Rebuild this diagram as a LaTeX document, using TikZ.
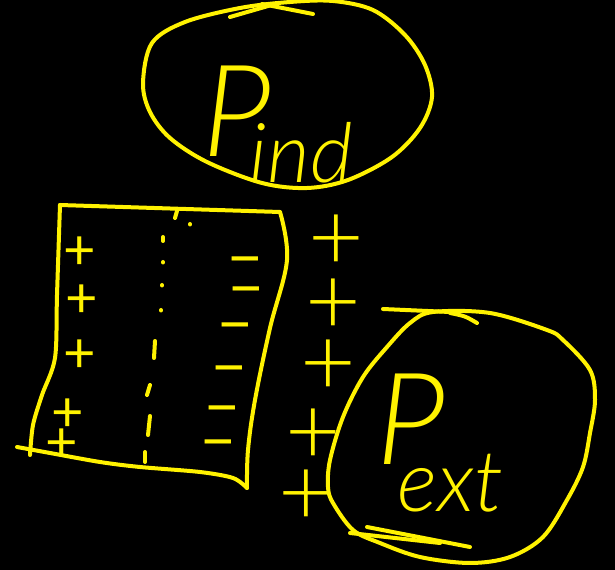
\documentclass[tikz,border=0pt]{standalone}
\usepackage{fontspec}
\newfontfamily\hand{Lato}[UprightFont=* Light, ItalicFont=* Light Italic]
\newfontfamily\handsign{Lato}
\begin{document}
\begin{tikzpicture}[x=0.75pt,y=-0.75pt,
  ink/.style={draw=yellow, line width=3pt, line cap=round, line join=round},
  txt/.style={text=yellow, inner sep=0pt},
  label/.style={txt, anchor=base west, font=\hand\itshape\fontsize{96}{96}\selectfont},
  plusbig/.style={txt, font=\hand\fontsize{72}{72}\selectfont},
  plussmall/.style={txt, font=\handsign\fontsize{42}{42}\selectfont},
  minus/.style={txt, font=\handsign\fontsize{46}{46}\selectfont}]
\fill[black] (0,0) rectangle (615,570);
\useasboundingbox (0,0) rectangle (615,570);
% top ellipse
\draw[ink] plot[smooth cycle, tension=0.55] coordinates {(152,43) (143,83) (150,112) (170,138) (207,162) (262,183) (307,188) (348,180) (392,157) (420,128) (432,97) (425,65) (405,35) (373,10) (333,1) (290,2) (240,8) (185,22)};
\draw[ink] (230,17) -- (275,4);
\draw[ink] (262,4) -- (313,14);
\node[label] (pind) at (202,157) {P\kern-16pt\raisebox{-19.5pt}{\fontsize{62}{62}\selectfont ind}};
% slab
\draw[ink] (60,205) -- (280,212) plot[smooth, tension=0.6] coordinates {(280,212) (287,260) (270,328) (255,400) (248,450) (247,488)};
\draw[ink] plot[smooth, tension=0.5] coordinates {(247,488) (233,478) (200,472) (140,467) (100,462) (50,453) (17,447)};
\draw[ink] plot[smooth, tension=0.5] coordinates {(30,455) (33,425) (42,395) (55,358) (57,295) (60,205)};
% middle dotted / dashed line
\draw[ink] (177,211) -- (175,218);
\draw[ink] (190,224) -- (190,224.5);
\draw[ink] (163,237) -- (163,241);
\draw[ink] (163,262) -- (163,262.5);
\draw[ink] (162,285) -- (162,285.5);
\draw[ink] (161,310) -- (161,310.5);
\draw[ink] (155,341) -- (154,358);
\draw[ink] (150,385) -- (147,395);
\draw[ink] (150,416) -- (148,435);
\draw[ink] (145,452) -- (145,462);
% charges inside
\node[plussmall] (pa) at (80,253) {+};
\node[plussmall] (pb) at (82,301) {+};
\node[plussmall] (pc) at (80,356) {+};
\node[plussmall] (pd) at (68,415) {+};
\node[plussmall] (pe) at (62,445) {+};
\node[minus] (ma) at (245,268) {−};
\node[minus] (mb) at (246,298) {−};
\node[minus] (mc) at (235,334) {−};
\node[minus] (md) at (229,377) {−};
\node[minus] (me) at (222,417) {−};
\node[minus] (mf) at (218,451) {−};
% charges outside
\node[plusbig] (qa) at (336,243) {+};
\node[plusbig] (qb) at (333,307) {+};
\node[plusbig] (qc) at (328,368) {+};
\node[plusbig] (qd) at (313,437) {+};
\node[plusbig] (qe) at (306,498) {+};
% bottom-right circle
\draw[ink] plot[smooth cycle, tension=0.55] coordinates {(433,312) (490,313) (547,330) (563,340) (590,370) (595,400) (590,433) (583,467) (567,500) (543,537) (510,557) (470,563) (420,557) (380,543) (353,530) (333,503) (328,487) (330,460) (343,417) (363,377) (387,347) (410,323)};
\draw[ink] (383,309) -- (450,312);
\draw[ink] (450,313) .. controls (465,316) .. (477,323);
\draw[ink] (350,533) -- (440,543);
\draw[ink] (367,527) -- (470,547);
\node[label] (pext) at (376,465) {P\kern-36pt\raisebox{-35pt}{\fontsize{64}{64}\selectfont ext}};
\end{tikzpicture}
\end{document}
